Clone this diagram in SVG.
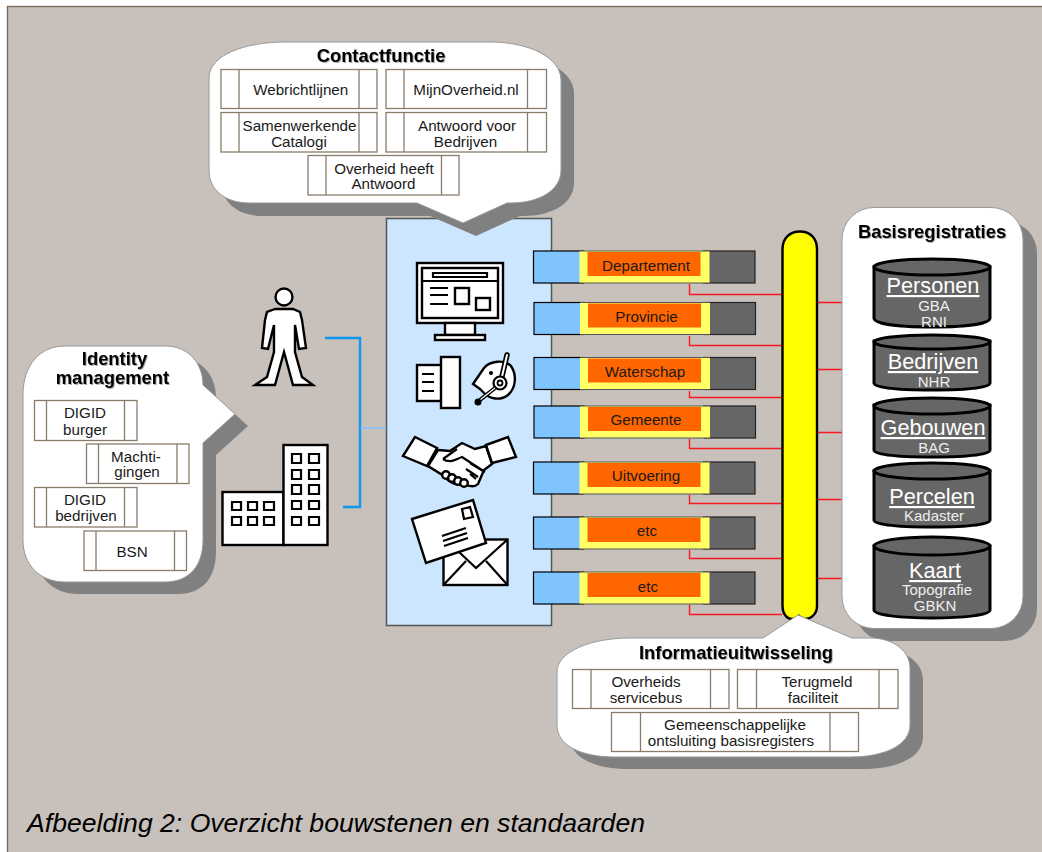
<svg xmlns="http://www.w3.org/2000/svg" width="1042" height="852" viewBox="0 0 1042 852">
<style>
text{font-family:"Liberation Sans",Arial,sans-serif;text-anchor:middle;fill:#1a1a1a;font-size:15.2px}
.title{font-weight:bold;font-size:18.4px;fill:#000;filter:drop-shadow(1px 1px 0.5px #aaa)}
.shadow{fill:#808080}
.bubble{fill:#fff;stroke:#999;stroke-width:1}
.card{fill:#fff;stroke:#8a7c6a;stroke-width:1.3}
.cin{fill:none;stroke:#8a7c6a;stroke-width:1.3}
.wire{fill:none;stroke:#f81820;stroke-width:1.400}
.ic{fill:#fff;stroke:#000;stroke-width:2.4;stroke-linejoin:miter}
.il{fill:none;stroke:#000;stroke-width:2.2}
.cyl{fill:#666;stroke:#000;stroke-width:3}
.cy{fill:#eee;font-size:15px}
.cyt{fill:#fff;font-size:21.7px;text-decoration:underline}
.rb{fill:#80c4ff;stroke:#000;stroke-width:1.2}
.rg{fill:#666;stroke:#222;stroke-width:1.2}
.ry{fill:#ffff66}
.ro{fill:#ff6600}
.br{fill:none;stroke:#0a98f0;stroke-width:2.4}
</style>
<defs>
<path id="contactShape" d="M209 78C209 55 245 42 285 42H490C530 42 561 58 561 80V170C561 190 540 203 510 203H507L463 223L417 203H250C225 203 209 190 209 170Z"/>
<path id="identityShape" d="M23 395C23 365 40 346 65 346H165C190 346 203 365 203 385L235 414L203 443V540C203 565 190 582 165 582H65C40 582 23 565 23 540Z"/>
<path id="infoShape" d="M557 672C557 652 590 638 630 638H763L798 615L852 638H870C895 638 910 652 910 668V725C910 745 885 757 850 757H615C580 757 557 745 557 725Z"/>
<g id="rowBase">
<rect class="rb" x="0" y="0" width="50" height="32"/>
<rect class="rg" x="170" y="0" width="51.500" height="32"/>
<rect class="ry" x="46" y="0" width="130" height="32"/>
<rect class="ro" x="54" y="1" width="113" height="24"/>
<path d="M46 0H176M46 32H176" stroke="#555" stroke-width="1" fill="none"/>
</g>
</defs>

<rect id="background" x="7.500" y="6.500" width="1040" height="850" fill="#c8c1bb" stroke="#7a6a58" stroke-width="1.400"/>

<g id="panel"><rect x="386.500" y="218.500" width="165" height="407" fill="#cce6ff" stroke="#555" stroke-width="1.500"/></g>

<g id="connectors">
<path class="br" d="M325 338H360V507H343"/>
<path d="M360.500 428H386" stroke="#7fc0ff" stroke-width="1.500" fill="none"/>
<path class="wire" d="M689.500 284V294.500H782M689.500 336V345.500H782M689.500 391V397.500H782M689.500 439V448.500H782M689.500 495V503.500H782M689.500 550V558.500H782M689.500 605V614.500H782"/>
<path class="wire" d="M817 302.500H874M817 369.500H874M817 432.500H874M817 499.500H874M817 578.500H874"/>
</g>

<g id="bus"><path d="M782.500 249C782.500 238 790 231.500 800 231.500C810 231.500 817 238 817 249V606C817 614 811 619 805 619C801 619 799 616 799 616C799 616 796 619 792 619C787 619 782.500 614 782.500 606Z" fill="#ffff00" stroke="#000" stroke-width="2.400"/></g>

<g id="person">
<circle class="ic" cx="284" cy="297" r="8.500"/>
<path class="ic" d="M275 309L267 312L265 320L262 348L268 349L274 325L274 352L267 377L255 385H275L284 352L293 385H313L302 377L295 352L295 325L299 349L306 348L302 320L300 312L293 309Z"/>
</g>

<g id="building">
<rect class="ic" x="222.500" y="492" width="61" height="53"/>
<rect class="ic" x="283.500" y="445" width="44" height="100"/>
<path class="il" d="M232 502h9v8h-9zM248 502h9v8h-9zM264 502h10v8h-10zM232 517h9v8h-9zM248 517h9v8h-9zM264 517h10v8h-10zM292 454h9v9h-9zM309 454h10v9h-10zM292 470h9v9h-9zM309 470h10v9h-10zM292 485h9v9h-9zM309 485h10v9h-10zM292 501h9v8h-9zM309 501h10v8h-10zM292 517h9v8h-9zM309 517h10v8h-10z"/>
</g>

<g id="icon-monitor">
<rect class="ic" x="417" y="263" width="86" height="60"/>
<rect class="ic" x="422" y="268" width="76" height="50"/>
<path class="il" d="M422 281H498M433 273H487V277H433ZM430 288H448M430 295H448M430 304H448"/>
<rect class="ic" x="455" y="288" width="14" height="16"/>
<rect class="ic" x="476" y="298" width="14" height="12"/>
<rect class="ic" x="445" y="323" width="30" height="12"/>
<rect class="ic" x="435" y="335" width="50" height="5"/>
</g>

<g id="icon-fax">
<rect class="ic" x="417" y="365" width="25" height="36"/>
<rect class="ic" x="441" y="357" width="19" height="51"/>
<path class="il" d="M422 374H434M422 382H434M422 391H434"/>
</g>

<g id="icon-headset">
<path class="ic" d="M473 384L484 368C490 361 504 359 511 366C517 375 516 388 508 395C500 401 490 399 484 393L480 389Z"/>
<circle cx="491" cy="373" r="2" fill="#000"/>
<path d="M507 355L500 385" stroke="#000" stroke-width="5.500" stroke-linecap="round" fill="none"/>
<path d="M507 355L500 385" stroke="#fff" stroke-width="2" stroke-linecap="round" fill="none"/>
<circle cx="500" cy="383" r="6.500" fill="#fff" stroke="#000" stroke-width="2.200"/>
<circle cx="500" cy="383" r="2.500" fill="#fff" stroke="#000" stroke-width="1.800"/>
<path d="M495 388L480 400" stroke="#000" stroke-width="4" fill="none"/>
<path d="M495 388L480 400" stroke="#fff" stroke-width="1.200" fill="none"/>
<circle cx="478" cy="402" r="3.500" fill="#000"/>
</g>

<g id="icon-handshake">
<path class="ic" d="M438 450L450 451L462 443L475 449L486 446L492 464L484 470L478 484C474 488 468 486 464 484C460 486 450 484 444 476L428 466Z"/>
<path class="il" d="M443 459L457 449M443 459C450 464 456 459 462 457L485 472M470 463L483 471M466 469L478 477M470 474L476 479"/>
<circle class="ic" cx="446" cy="475" r="3.800"/>
<circle class="ic" cx="452" cy="478" r="3.800"/>
<circle class="ic" cx="458" cy="481" r="3.800"/>
<circle class="ic" cx="464" cy="483" r="3.800"/>
<path class="ic" d="M403 456L415 437L437 448L427 466Z"/>
<path class="ic" d="M486 445L508 437L516 457L492 463Z"/>
</g>

<g id="icon-mail">
<rect class="ic" x="443.500" y="539.500" width="64" height="45.500"/>
<path class="il" d="M443.500 585L466 561M507.500 585L486 561M459 552L476 568L507.500 539.500"/>
<path class="ic" d="M412 519L473 500L486 543L426 563Z"/>
<path class="il" d="M462 509L470 507L473 517L464 519ZM442 536L466 528M443 541L467 533M444 546L468 538"/>
</g>

<g id="row-departement"><use href="#rowBase" x="533.500" y="251"/><text x="646" y="271">Departement</text></g>
<g id="row-provincie"><use href="#rowBase" x="534" y="302.500"/><text x="646.500" y="322">Provincie</text></g>
<g id="row-waterschap"><use href="#rowBase" x="534" y="357.500"/><text x="645" y="377">Waterschap</text></g>
<g id="row-gemeente"><use href="#rowBase" x="534" y="406"/><text x="646" y="425">Gemeente</text></g>
<g id="row-uitvoering"><use href="#rowBase" x="533.500" y="462"/><text x="646" y="481">Uitvoering</text></g>
<g id="row-etc-1"><use href="#rowBase" x="533.500" y="517"/><text x="647" y="536">etc</text></g>
<g id="row-etc-2"><use href="#rowBase" x="533.500" y="572"/><text x="648" y="592">etc</text></g>

<g id="contactfunctie">
<use href="#contactShape" class="shadow" x="13" y="13"/>
<use href="#contactShape" class="bubble"/>
<text class="title" x="381" y="62">Contactfunctie</text>
<rect class="card" x="221" y="69.500" width="156" height="39"/><path class="cin" d="M239 69.500V108.500M359 69.500V108.500"/><text x="300.700" y="95">Webrichtlijnen</text>
<rect class="card" x="386" y="69.500" width="160.500" height="39"/><path class="cin" d="M404 69.500V108.500M527.500 69.500V108.500"/><text x="466" y="95">MijnOverheid.nl</text>
<rect class="card" x="221" y="112.500" width="156" height="39.500"/><path class="cin" d="M239 112.500V152M359 112.500V152"/><text x="299.500" y="131">Samenwerkende</text><text x="299" y="147">Catalogi</text>
<rect class="card" x="386" y="112.500" width="160.500" height="39.500"/><path class="cin" d="M404 112.500V152M527.500 112.500V152"/><text x="467" y="131">Antwoord voor</text><text x="465.500" y="147">Bedrijven</text>
<rect class="card" x="308" y="155.500" width="151" height="39.500"/><path class="cin" d="M326 155.500V195M441.500 155.500V195"/><text x="384" y="174">Overheid heeft</text><text x="383.500" y="189">Antwoord</text>
</g>

<g id="identity-management">
<use href="#identityShape" class="shadow" x="13" y="12"/>
<use href="#identityShape" class="bubble"/>
<text class="title" x="114.500" y="365">Identity</text><text class="title" x="112.500" y="384">management</text>
<rect class="card" x="34.500" y="400.500" width="102.500" height="40"/><path class="cin" d="M46.500 400.500V440.500M124.500 400.500V440.500"/><text x="85" y="418">DIGID</text><text x="85" y="435">burger</text>
<rect class="card" x="86.500" y="444" width="102.500" height="39.500"/><path class="cin" d="M98.500 444V483.500M177 444V483.500"/><text x="136" y="462">Machti-</text><text x="137" y="477">gingen</text>
<rect class="card" x="34.500" y="487.500" width="102.500" height="39.500"/><path class="cin" d="M46.500 487.500V527M124.500 487.500V527"/><text x="85" y="505">DIGID</text><text x="86" y="521">bedrijven</text>
<rect class="card" x="84" y="531" width="102.500" height="39.500"/><path class="cin" d="M96 531V570.500M174.500 531V570.500"/><text x="132" y="557">BSN</text>
</g>

<g id="basisregistraties">
<rect class="shadow" x="855" y="221" width="182" height="420" rx="32"/>
<rect class="bubble" x="842" y="207.500" width="181" height="421" rx="32"/>
<text class="title" x="932" y="238">Basisregistraties</text>
</g>
<g id="db-personen"><path class="cyl" d="M874 267V318C874 324 900 327 932 327S990 324 990 318V267Z"/><ellipse class="cyl" cx="932" cy="267" rx="58" ry="8"/><text class="cyt" x="933" y="293">Personen</text><text class="cy" x="934" y="311">GBA</text><text class="cy" x="934" y="327">RNI</text></g>
<g id="db-bedrijven"><path class="cyl" d="M874 341V383C874 388 900 390 932 390S990 388 990 383V341Z"/><ellipse class="cyl" cx="932" cy="342" rx="58" ry="7"/><text class="cyt" x="933" y="369">Bedrijven</text><text class="cy" x="934" y="387">NHR</text></g>
<g id="db-gebouwen"><path class="cyl" d="M874 405V450C874 455 900 457 932 457S990 455 990 450V405Z"/><ellipse class="cyl" cx="932" cy="406" rx="58" ry="8"/><text class="cyt" x="933" y="435">Gebouwen</text><text class="cy" x="934" y="453">BAG</text></g>
<g id="db-percelen"><path class="cyl" d="M874 471V520C874 525 900 527 932 527S990 525 990 520V471Z"/><ellipse class="cyl" cx="932" cy="471" rx="58" ry="8"/><text class="cyt" x="932" y="504">Percelen</text><text class="cy" x="934" y="521">Kadaster</text></g>
<g id="db-kaart"><path class="cyl" d="M874 546V610C874 615 900 618 932 618S990 615 990 610V546Z"/><ellipse class="cyl" cx="932" cy="546" rx="58" ry="9"/><text class="cyt" x="935" y="578">Kaart</text><text class="cy" x="937" y="595">Topografie</text><text class="cy" x="935" y="611">GBKN</text></g>

<g id="informatieuitwisseling">
<use href="#infoShape" class="shadow" x="13" y="12"/>
<use href="#infoShape" class="bubble"/>
<text class="title" x="736" y="659">Informatieuitwisseling</text>
<rect class="card" x="572.500" y="669.500" width="156.500" height="39"/><path class="cin" d="M591 669.500V708.500M710.500 669.500V708.500"/><text x="646" y="687">Overheids</text><text x="646" y="703">servicebus</text>
<rect class="card" x="737.500" y="669.500" width="160.500" height="39"/><path class="cin" d="M756.500 669.500V708.500M879 669.500V708.500"/><text x="817" y="687">Terugmeld</text><text x="813" y="703">faciliteit</text>
<rect class="card" x="611.500" y="712.500" width="247" height="39"/><path class="cin" d="M640.500 712.500V751.500M830 712.500V751.500"/><text x="735" y="730">Gemeenschappelijke</text><text x="731" y="746">ontsluiting basisregisters</text>
</g>

<text id="caption" x="27" y="832" style="text-anchor:start;font-size:26.6px;font-style:italic;fill:#000">Afbeelding 2: Overzicht bouwstenen en standaarden</text>
</svg>
